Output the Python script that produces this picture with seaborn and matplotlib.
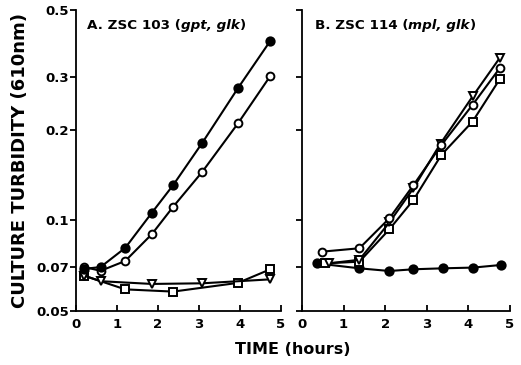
import matplotlib
matplotlib.use("Agg")
import matplotlib.pyplot as plt
import seaborn as sns
import pandas as pd

# ---- data ----
a_t_circ = [0.2, 0.6, 1.2, 1.85, 2.37, 3.08, 3.95, 4.74]
a_filled = [0.069, 0.070, 0.081, 0.106, 0.131, 0.181, 0.275, 0.395]
a_open = [0.070, 0.068, 0.0733, 0.090, 0.111, 0.145, 0.210, 0.302]
a_t_sq = [0.2, 1.2, 2.37, 3.95, 4.74]
a_square = [0.0655, 0.059, 0.058, 0.062, 0.0688]
a_t_tri = [0.2, 0.6, 1.85, 3.08, 4.74]
a_tri = [0.0655, 0.0628, 0.0615, 0.0618, 0.0637]

b_t_filled = [0.35, 1.38, 2.1, 2.68, 3.38, 4.12, 4.78]
b_filled = [0.072, 0.0693, 0.0679, 0.0688, 0.0693, 0.0697, 0.0711]
b_t_open = [0.47, 1.38, 2.1, 2.68, 3.35, 4.1, 4.75]
b_open = [0.0787, 0.0808, 0.1016, 0.131, 0.178, 0.242, 0.320]
b_t_sq = [0.55, 1.38, 2.1, 2.68, 3.35, 4.1, 4.75]
b_square = [0.072, 0.0729, 0.0934, 0.117, 0.165, 0.213, 0.294]
b_t_tri = [0.65, 1.38, 2.1, 2.68, 3.33, 4.1, 4.75]
b_tri = [0.072, 0.074, 0.0984, 0.128, 0.180, 0.258, 0.346]

y_ticks = [0.05, 0.07, 0.1, 0.2, 0.3, 0.5]
y_labels = ["0.05", "0.07", "0.1", "0.2", "0.3", "0.5"]
x_ticks = [0, 1, 2, 3, 4, 5]

sns.set_style("ticks")
plt.rcParams["font.family"] = ["DejaVu Sans"]
plt.rcParams["font.weight"] = "bold"
plt.rcParams["text.color"] = "black"
plt.rcParams["xtick.color"] = "black"
plt.rcParams["ytick.color"] = "black"
plt.rcParams["axes.edgecolor"] = "black"

fig = plt.figure(figsize=(5.21, 3.65), dpi=100)
axA = fig.add_axes([76 / 521, 54 / 365, 205 / 521, 301 / 365])
axB = fig.add_axes([302 / 521, 54 / 365, 208 / 521, 301 / 365])

styles = {
    "filled": dict(marker="o", markerfacecolor="black", markeredgecolor="black", markersize=6.0),
    "open": dict(marker="o", markerfacecolor="white", markeredgecolor="black", markersize=5.6),
    "square": dict(marker="s", markerfacecolor="white", markeredgecolor="black", markersize=5.2),
    "tri": dict(marker="v", markerfacecolor="white", markeredgecolor="black", markersize=6.0),
}

def draw(ax, t, v, kind):
    df = pd.DataFrame({"t": t, "v": v})
    sns.lineplot(data=df, x="t", y="v", ax=ax, color="black", linewidth=1.5,
                 estimator=None, sort=False, markeredgewidth=1.4, **styles[kind])

draw(axA, a_t_sq, a_square, "square")
draw(axA, a_t_tri, a_tri, "tri")
draw(axA, a_t_circ, a_open, "open")
draw(axA, a_t_circ, a_filled, "filled")

draw(axB, b_t_filled, b_filled, "filled")
draw(axB, b_t_sq, b_square, "square")
draw(axB, b_t_tri, b_tri, "tri")
draw(axB, b_t_open, b_open, "open")

for ax in (axA, axB):
    ax.set_yscale("log")
    ax.set_ylim(0.05, 0.5)
    ax.set_xlim(0, 5)
    ax.set_yticks(y_ticks)
    ax.minorticks_off()
    ax.set_xticks(x_ticks)
    ax.set_xticklabels([str(x) for x in x_ticks], fontsize=9.5, fontweight="bold")
    ax.set_xlabel("")
    ax.set_ylabel("")
    for s in ("top", "right"):
        ax.spines[s].set_visible(False)
    for s in ("left", "bottom"):
        ax.spines[s].set_linewidth(1.3)
    ax.tick_params(axis="x", direction="in", length=4, width=1.3, pad=5)
    ax.tick_params(axis="y", direction="out", length=4, width=1.3, pad=1)
    ax.set_facecolor("white")

axA.set_yticklabels(y_labels, fontsize=9.5, fontweight="bold")
axB.set_yticklabels([])

def title(ax, x, pre, ital):
    t1 = ax.text(x, 0.947, pre, transform=ax.transAxes, fontsize=9.7,
                 fontweight="bold", va="center", ha="left")
    t2 = ax.annotate(ital, xy=(1, 0), xycoords=t1, va="bottom", ha="left",
                     fontsize=9.7, fontweight="bold", fontstyle="italic")
    ax.annotate(")", xy=(1, 0), xycoords=t2, va="bottom", ha="left",
                fontsize=9.7, fontweight="bold")

title(axA, 0.054, "A. ZSC 103 (", "gpt, glk")
title(axB, 0.0625, "B. ZSC 114 (", "mpl, glk")

fig.text(20 / 521, 1 - 160 / 365, "CULTURE TURBIDITY (610nm)", rotation=90,
         fontsize=13, fontweight="bold", ha="center", va="center")
fig.text(293 / 521, 1 - 350 / 365, "TIME (hours)", fontsize=11.5,
         fontweight="bold", ha="center", va="center")

fig.savefig("out.png", dpi=100, facecolor="white")
